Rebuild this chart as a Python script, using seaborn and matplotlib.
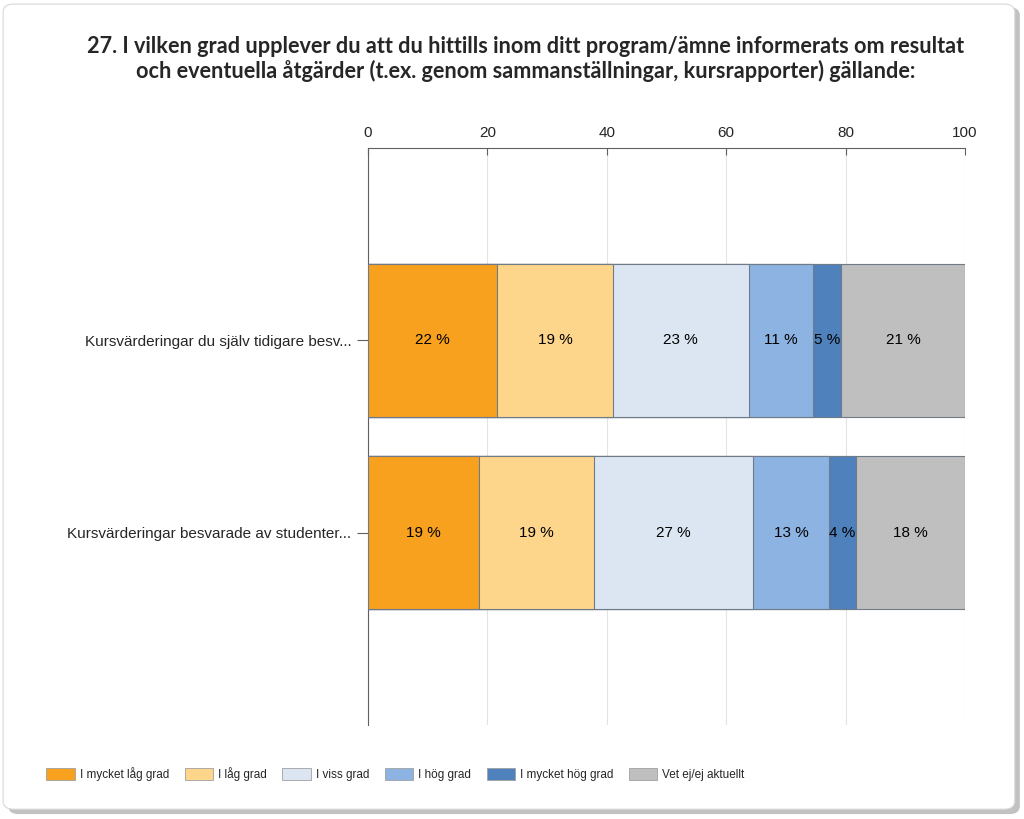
import matplotlib
matplotlib.use('Agg')
import matplotlib.pyplot as plt
from matplotlib.patches import FancyBboxPatch, Patch
import seaborn as sns
import pandas as pd
import numpy as np

# data
questions = ["Kursvärderingar du själv tidigare besv...",
             "Kursvärderingar besvarade av studenter..."]
answers = ["I mycket låg grad", "I låg grad", "I viss grad",
           "I hög grad", "I mycket hög grad", "Vet ej/ej aktuellt"]
pct_q1 = [21.6, 19.4, 22.8, 10.7, 4.7, 20.8]
pct_q2 = [18.6, 19.3, 26.6, 12.7, 4.5, 18.3]
colors = ["#F7A11E", "#FDD68B", "#DCE6F2", "#8DB3E2", "#4F81BD", "#BFBFBF"]

title = ("27. I vilken grad upplever du att du hittills inom ditt program/ämne informerats om resultat\n"
         "och eventuella åtgärder (t.ex. genom sammanställningar, kursrapporter) gällande:")

df = pd.DataFrame([pct_q1, pct_q2], columns=answers)
df.insert(0, "question", questions)
cum = df[answers].cumsum(axis=1)

sns.set_style("white")
plt.rcParams['font.family'] = ['Liberation Sans', 'DejaVu Sans']

fig = plt.figure(figsize=(10.24, 8.19), dpi=100)
fig.patches.append(FancyBboxPatch((0.008, 0.006), 0.988, 0.985, boxstyle="round,pad=0,rounding_size=0.01",
                                  transform=fig.transFigure, facecolor="#9a9a9a", edgecolor="none",
                                  alpha=0.6, zorder=-2))
fig.patches.append(FancyBboxPatch((0.003, 0.012), 0.988, 0.983, boxstyle="round,pad=0,rounding_size=0.01",
                                  transform=fig.transFigure, facecolor="white", edgecolor="#d8d8d8",
                                  linewidth=0.8, zorder=-1))

ax = fig.add_axes([0.3594, 0.115, 0.583, 0.704])

# stacked bars: draw cumulative totals from the last answer backwards
for i in range(len(answers) - 1, -1, -1):
    sns.barplot(x=cum[answers[i]], y=df["question"], orient="h", color=colors[i],
                width=0.8, edgecolor="#6f7b88", linewidth=0.8, saturation=1, ax=ax, zorder=3)

for r in range(len(questions)):
    start = 0
    for i, a in enumerate(answers):
        v = df.loc[r, a]
        ax.text(start + v / 2, r, f"{round(v):.0f} %", ha="center", va="center",
                fontsize=11, color="black", zorder=5)
        start += v

ax.set_xlim(0, 100)
ax.set_ylim(2, -1)
ax.set_xticks([0, 20, 40, 60, 80, 100])
ax.xaxis.tick_top()
ax.tick_params(axis="x", direction="in", length=5, labelsize=11, pad=6, color="#606060")
ax.tick_params(axis="y", length=8, labelsize=11, pad=4, color="#606060", left=True)
ax.grid(axis="x", color="#e3e3e3", linewidth=0.8, zorder=0)
ax.set_xlabel("")
ax.set_ylabel("")
for s in ["right", "bottom"]:
    ax.spines[s].set_visible(False)
ax.spines["top"].set_color("#606060")
ax.spines["left"].set_color("#606060")

fig.text(0.513, 0.928, title, ha="center", va="center", fontsize=15.6, fontweight="bold",
         family=["Lato", "DejaVu Sans"], linespacing=1.15)

handles = [Patch(facecolor=c, edgecolor="#a0a0a0", linewidth=0.6) for c in colors]
fig.legend(handles, answers, loc="center left", bbox_to_anchor=(0.035, 0.055), ncol=6,
           frameon=False, fontsize=8.5, handlelength=2.4, handleheight=1.1,
           handletextpad=0.4, columnspacing=1.35)

fig.savefig("out.png", dpi=100)
